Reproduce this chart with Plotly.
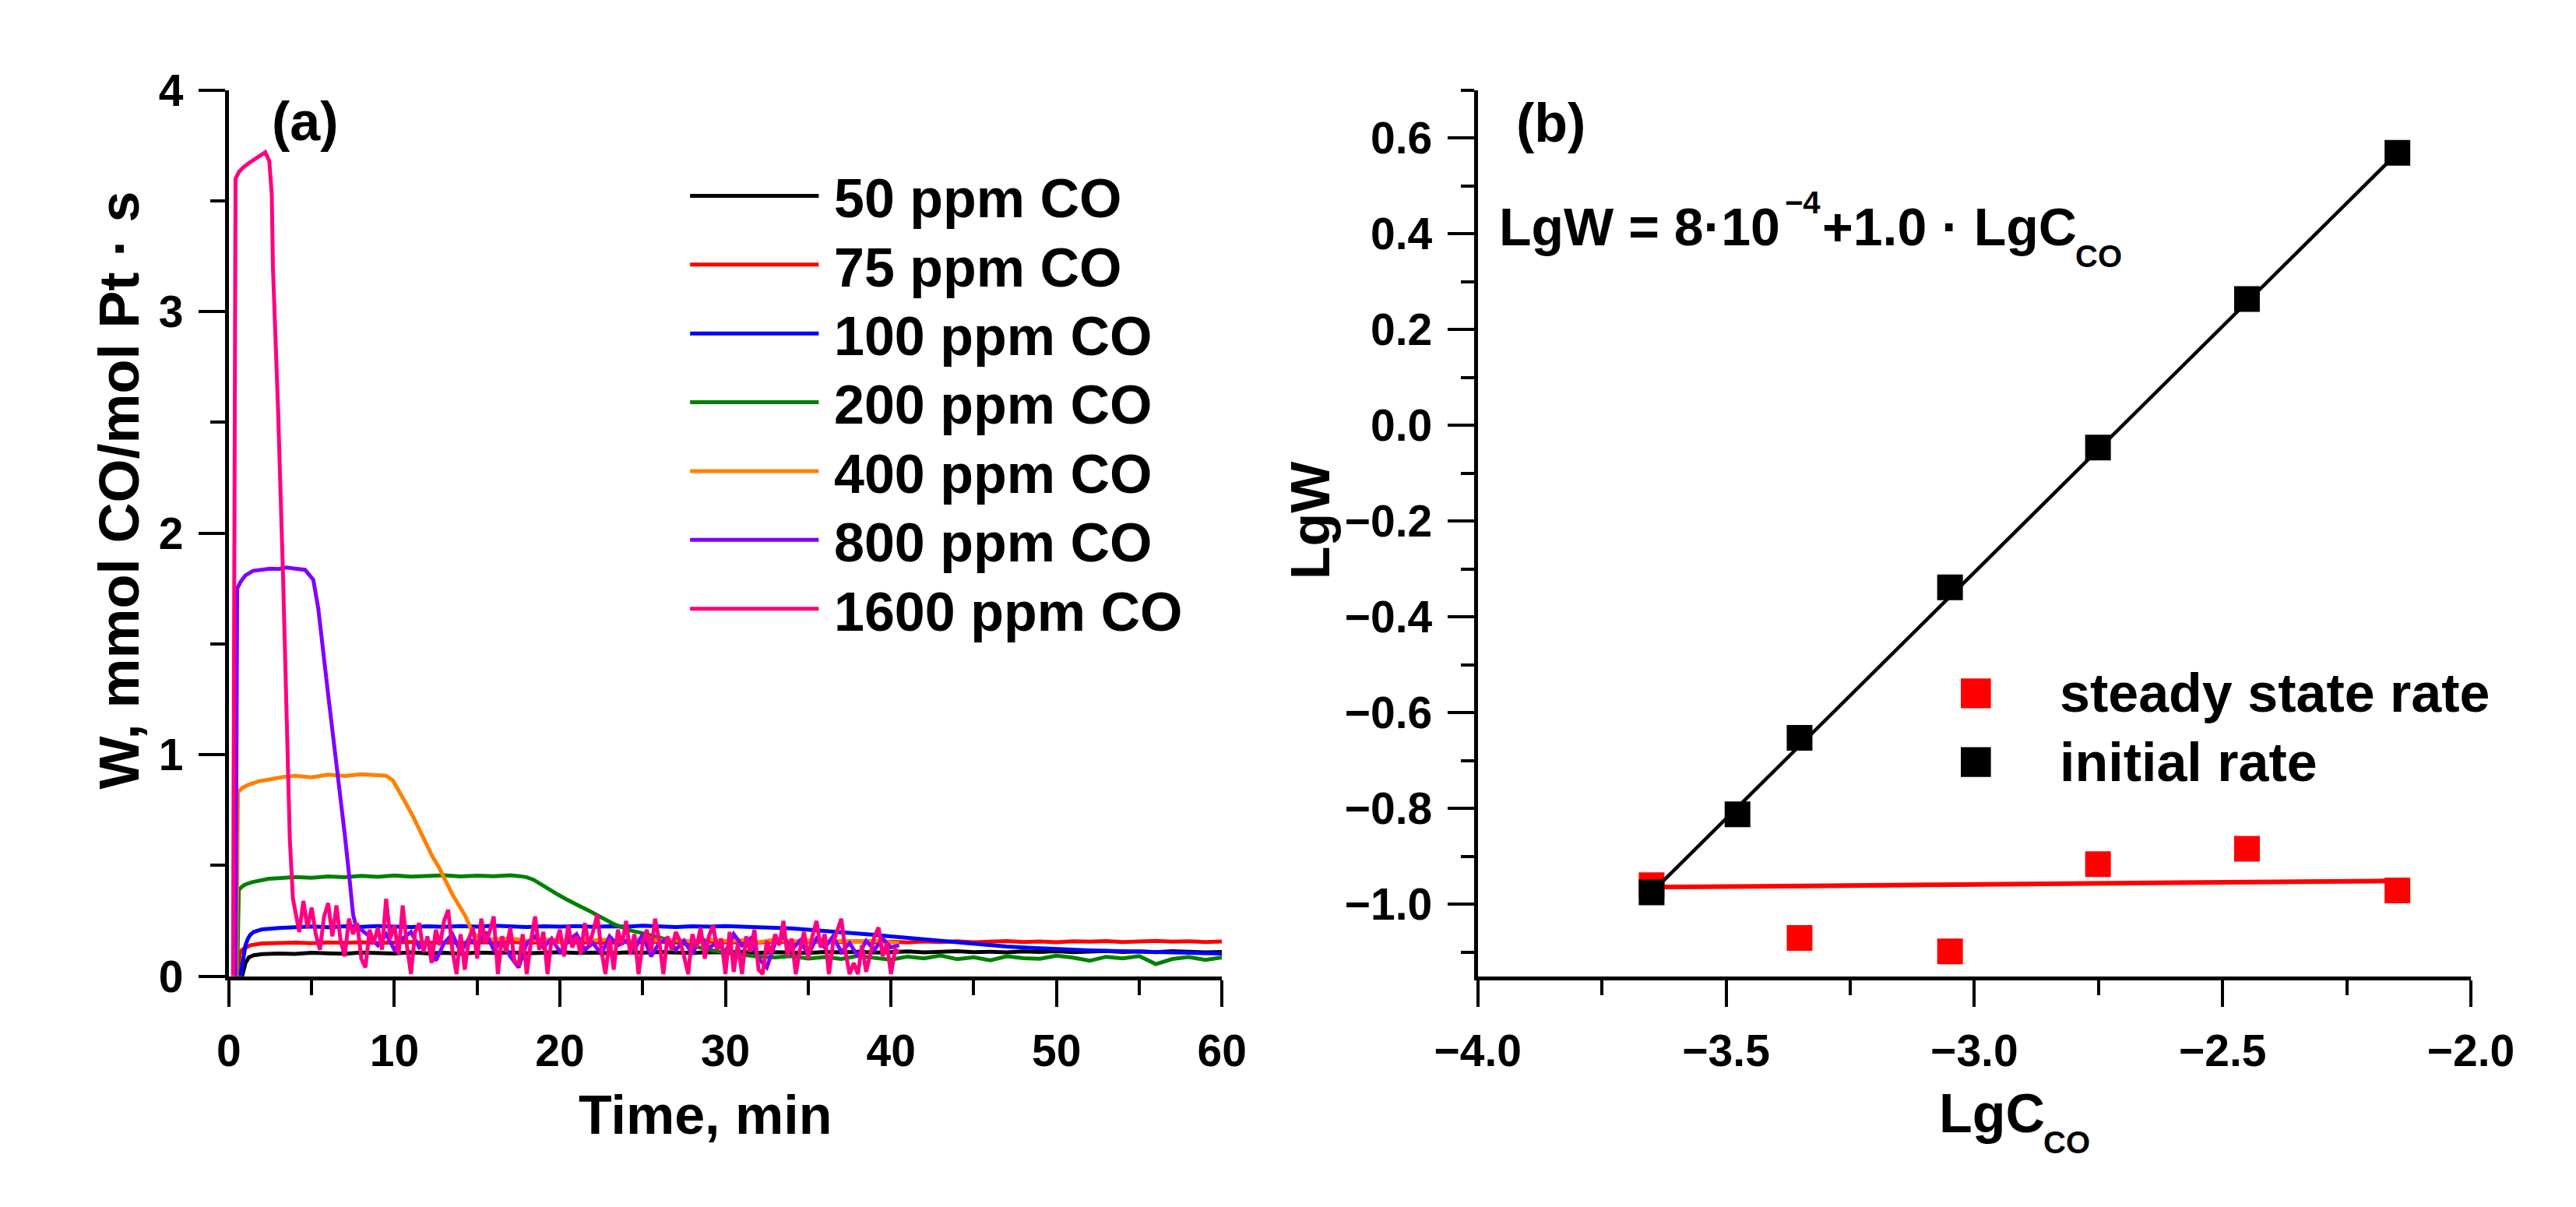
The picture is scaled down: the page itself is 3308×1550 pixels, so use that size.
import plotly.graph_objects as go

FIG_W, FIG_H = 3308, 1550
FONT = "Liberation Sans, Arial, Helvetica, sans-serif"

# ---------------- panel (a): W vs time ----------------
series_names = ["50 ppm CO", "75 ppm CO", "100 ppm CO", "200 ppm CO",
                "400 ppm CO", "800 ppm CO", "1600 ppm CO"]
series_colors = ["#000000", "#ff0000", "#0000ff", "#008000",
                 "#ff8000", "#8000ff", "#ff0080"]

t_minutes = [2, 3, 4, 5, 6, 7, 8, 9, 10, 11, 12, 13, 14, 15, 16, 17, 18, 19, 20,
             21, 22, 23, 24, 25, 26, 27, 28, 29, 30, 31, 32, 33, 34, 35, 36, 37, 38,
             39, 40, 41, 42, 43, 44, 45, 46, 47, 48, 49, 50, 51, 52, 53, 54, 55, 56,
             57, 58, 59, 60]

t_50 = [0.8, 1.0, 1.2, 1.5] + t_minutes
w_50 = [0, 0.06, 0.085, 0.095,
        0.100, 0.103, 0.101, 0.106, 0.104, 0.102, 0.107, 0.105, 0.103, 0.108,
        0.104, 0.106, 0.102, 0.107, 0.105, 0.108, 0.104, 0.106, 0.109, 0.105,
        0.107, 0.104, 0.108, 0.106, 0.110, 0.107, 0.105, 0.109, 0.107, 0.111,
        0.106, 0.109, 0.108, 0.105, 0.110, 0.108, 0.111, 0.107, 0.109, 0.112,
        0.108, 0.110, 0.113, 0.109, 0.111, 0.108, 0.112, 0.110, 0.113, 0.109,
        0.111, 0.114, 0.110, 0.112, 0.109, 0.113, 0.111, 0.108, 0.110]

t_75 = [0.55, 0.65, 0.8, 1.0, 1.3, 1.7] + t_minutes
w_75 = [0, 0.10, 0.12, 0.13, 0.14, 0.145,
        0.148, 0.150, 0.152, 0.149, 0.153, 0.151, 0.154, 0.150, 0.152, 0.155,
        0.151, 0.153, 0.150, 0.154, 0.152, 0.155, 0.151, 0.153, 0.156, 0.152,
        0.154, 0.151, 0.155, 0.153, 0.156, 0.152, 0.154, 0.157, 0.153, 0.155,
        0.152, 0.156, 0.154, 0.157, 0.153, 0.155, 0.158, 0.154, 0.156, 0.153,
        0.157, 0.155, 0.158, 0.154, 0.156, 0.159, 0.155, 0.157, 0.154, 0.158,
        0.156, 0.159, 0.155, 0.157, 0.160, 0.156, 0.158, 0.155, 0.157]

t_100 = [0.7, 0.8, 0.9, 1.0, 1.15, 1.3, 1.5, 1.8] + t_minutes
w_100 = [0, 0.04, 0.10, 0.14, 0.17, 0.188, 0.200, 0.208,
         0.212, 0.218, 0.222, 0.225, 0.221, 0.226, 0.223, 0.227, 0.224, 0.222,
         0.226, 0.223, 0.227, 0.224, 0.228, 0.225, 0.222, 0.226, 0.224, 0.227,
         0.223, 0.226, 0.224, 0.228, 0.225, 0.222, 0.226, 0.224, 0.227, 0.223,
         0.221, 0.219, 0.216, 0.211, 0.206, 0.200, 0.194, 0.187, 0.180, 0.173,
         0.166, 0.158, 0.151, 0.144, 0.139, 0.134, 0.130, 0.126, 0.123, 0.120,
         0.117, 0.115, 0.113, 0.111, 0.109, 0.107, 0.106, 0.104, 0.103]

t_200 = ([0.5, 0.6, 0.8, 1.0, 1.4, 1.8, 2.4,
          3, 4, 5, 6, 7, 8, 9, 10, 11, 12, 13, 14, 15, 16, 17,
          17.6, 18.0, 18.4, 18.9, 19.4, 19.9, 20.4, 20.9, 21.3, 21.8, 22.3, 22.8,
          23.3, 23.8, 24.3, 24.8, 25.3] + t_minutes[24:])
w_200 = [0, 0.39, 0.405, 0.415, 0.425, 0.432, 0.440,
         0.443, 0.448, 0.445, 0.451, 0.447, 0.453, 0.449, 0.455, 0.450, 0.452,
         0.456, 0.451, 0.454, 0.452, 0.456,
         0.452, 0.447, 0.436, 0.415, 0.390, 0.368, 0.347, 0.330, 0.313, 0.294,
         0.274, 0.254, 0.234, 0.220, 0.206, 0.198, 0.190,
         0.175, 0.155, 0.137, 0.120, 0.106, 0.096, 0.089, 0.085, 0.091, 0.080,
         0.087, 0.078, 0.092, 0.083, 0.075, 0.089, 0.081, 0.094, 0.077, 0.086,
         0.072, 0.090, 0.082, 0.079, 0.093, 0.084, 0.070, 0.088, 0.081, 0.091,
         0.055, 0.078, 0.087, 0.074, 0.085]

t_400 = ([0.45, 0.55, 0.8, 1.2, 1.8, 2.5, 3.3, 4, 5, 6, 7, 8, 9, 9.5, 9.9,
          10.3, 10.7, 11.1, 11.5, 11.9, 12.3, 12.7, 13.1, 13.5, 13.9, 14.3, 14.7,
          15.0, 15.5] + t_minutes[14:39] + [40.5])
w_400 = [0, 0.83, 0.85, 0.865, 0.88, 0.89, 0.90, 0.905, 0.898, 0.91, 0.904,
         0.912, 0.907, 0.905, 0.885, 0.835, 0.78, 0.725, 0.66, 0.595, 0.54, 0.49,
         0.43, 0.37, 0.32, 0.27, 0.20, 0.18, 0.17,
         0.165, 0.172, 0.160, 0.168, 0.158, 0.170, 0.162, 0.166, 0.155, 0.169,
         0.161, 0.164, 0.157, 0.167, 0.159, 0.163, 0.154, 0.166, 0.158, 0.162,
         0.153, 0.160, 0.156, 0.161, 0.152, 0.150]

t_800 = [0.4, 0.5, 0.7, 1.0, 1.45, 2, 2.5, 3, 3.5, 4, 4.6, 5.1, 5.4, 6.0, 6.6,
         7.0, 7.3, 7.5, 7.7,
         8.0, 8.5, 9.0, 9.5, 10.0, 10.5, 11.0, 11.5, 12.0, 12.5, 13.0, 13.5, 14.0,
         14.5, 15.0, 15.5, 16.0, 16.5, 17.0, 17.5, 18.0, 18.5, 19.0, 19.5, 20.0,
         20.5, 21.0, 21.5, 22.0, 22.5, 23.0, 23.5, 24.0, 24.5, 25.0, 25.5, 26.0,
         26.5, 27.0, 27.5, 28.0, 28.5, 29.0, 29.5, 30.0, 30.5, 31.0, 31.5, 32.0,
         32.5, 33.0, 33.5, 34.0, 34.5, 35.0, 35.5, 36.0, 36.5, 37.0, 37.5, 38.0,
         38.5, 39.0, 39.5, 40.0, 40.5]
w_800 = [0, 1.75, 1.78, 1.81, 1.83, 1.835, 1.84, 1.838, 1.845, 1.84, 1.835,
         1.79, 1.66, 1.27, 0.90, 0.64, 0.43, 0.28, 0.22,
         0.21, 0.18, 0.14, 0.19, 0.12, 0.17, 0.20, 0.13, 0.16, 0.07, 0.15, 0.19,
         0.11, 0.17, 0.14, 0.20, 0.12, 0.16, 0.09, 0.04, 0.15, 0.18, 0.13, 0.17,
         0.11, 0.16, 0.19, 0.12, 0.15, 0.10, 0.18, 0.14, 0.16, 0.12, 0.19, 0.09,
         0.15, 0.17, 0.12, 0.16, 0.10, 0.18, 0.13, 0.15, 0.11, 0.19, 0.14, 0.17,
         0.08, 0.04, 0.15, 0.18, 0.12, 0.16, 0.10, 0.17, 0.13, 0.18, 0.11, 0.15,
         0.09, 0.16, 0.12, 0.17, 0.13, 0.14]

t_1600 = [0.25, 0.4, 0.6, 0.85, 1.2, 1.6, 1.9, 2.2, 2.44, 2.59, 2.66, 2.97, 3.27,
          3.5, 3.68, 3.87,
          4.0, 4.25, 4.5, 4.75, 5.0, 5.25, 5.5, 5.75, 6.0, 6.25, 6.5, 6.75, 7.0,
          7.25, 7.5, 7.75, 8.0, 8.25, 8.5, 8.75, 9.0, 9.25, 9.5, 9.75, 10.0, 10.25,
          10.5, 10.75, 11.0, 11.25, 11.5, 11.75, 12.0, 12.25, 12.5, 12.75, 13.0,
          13.25, 13.5, 13.75, 14.0, 14.25, 14.5, 14.75, 15.0, 15.25, 15.5, 15.75,
          16.0, 16.25, 16.5, 16.75, 17.0, 17.25, 17.5, 17.75, 18.0, 18.25, 18.5,
          18.75, 19.0, 19.25, 19.5, 19.75, 20.0, 20.25, 20.5, 20.75, 21.0, 21.25,
          21.5, 21.75, 22.0, 22.25, 22.5, 22.75, 23.0, 23.25, 23.5, 23.75, 24.0,
          24.25, 24.5, 24.75, 25.0, 25.25, 25.5, 25.75, 26.0, 26.25, 26.5, 26.75,
          27.0, 27.25, 27.5, 27.75, 28.0, 28.25, 28.5, 28.75, 29.0, 29.25, 29.5,
          29.75, 30.0, 30.25, 30.5, 30.75, 31.0, 31.25, 31.5, 31.75, 32.0, 32.25,
          32.5, 32.75, 33.0, 33.25, 33.5, 33.75, 34.0, 34.25, 34.5, 34.75, 35.0,
          35.25, 35.5, 35.75, 36.0, 36.25, 36.5, 36.75, 37.0, 37.25, 37.5, 37.75,
          38.0, 38.25, 38.5, 38.75, 39.0, 39.25, 39.5, 39.75, 40.0, 40.25, 40.5]
w_1600 = [0, 3.60, 3.63, 3.65, 3.67, 3.69, 3.71, 3.72, 3.68, 3.53, 3.20, 2.56,
          1.81, 1.12, 0.62, 0.35,
          0.30, 0.20, 0.34, 0.22, 0.31, 0.19, 0.12, 0.27, 0.33, 0.18, 0.32, 0.16,
          0.09, 0.26, 0.19, 0.24, 0.08, 0.04, 0.21, 0.15, 0.22, 0.12, 0.35, 0.17,
          0.23, 0.10, 0.32, 0.14, 0.01, 0.20, 0.24, 0.11, 0.18, 0.06, 0.21, 0.14,
          0.25, 0.30, 0.12, 0.01, 0.19, 0.03, 0.17, 0.22, 0.08, 0.26, 0.15, 0.20,
          0.27, 0.01, 0.18, 0.11, 0.22, 0.07, 0.05, 0.19, 0.01, 0.16, 0.27, 0.12,
          0.20, 0.01, 0.17, 0.15, 0.21, 0.09, 0.23, 0.13, 0.18, 0.10, 0.24, 0.14,
          0.20, 0.28, 0.12, 0.01, 0.17, 0.03, 0.21, 0.14, 0.25, 0.10, 0.19, 0.01,
          0.15, 0.21, 0.11, 0.26, 0.16, 0.01, 0.18, 0.12, 0.20, 0.16, 0.09, 0.01,
          0.19, 0.13, 0.22, 0.08, 0.18, 0.23, 0.12, 0.17, 0.01, 0.20, 0.02, 0.15,
          0.01, 0.18, 0.11, 0.21, 0.03, 0.01, 0.16, 0.10, 0.19, 0.14, 0.25, 0.09,
          0.17, 0.01, 0.12, 0.20, 0.08, 0.18, 0.25, 0.13, 0.19, 0.01, 0.15, 0.20,
          0.26, 0.11, 0.01, 0.06, 0.01, 0.14, 0.02, 0.10, 0.18, 0.22, 0.09, 0.15,
          0.01, 0.12, 0.11]

series_t = [t_50, t_75, t_100, t_200, t_400, t_800, t_1600]
series_w = [w_50, w_75, w_100, w_200, w_400, w_800, w_1600]

# ---------------- panel (b): LgW vs LgC_CO ----------------
lgc_initial = [-3.650, -3.477, -3.352, -3.049, -2.751, -2.451, -2.148]
lgw_initial = [-0.975, -0.812, -0.652, -0.338, -0.046, 0.264, 0.569]
lgc_steady = [-3.650, -3.352, -3.049, -2.751, -2.451, -2.148]
lgw_steady = [-0.960, -1.070, -1.098, -0.916, -0.884, -0.971]
fit_initial_x = [-3.650, -2.148]
fit_initial_y = [-0.975, 0.569]
fit_steady_x = [-3.650, -2.170]
fit_steady_y = [-0.964, -0.951]
legend_b_labels = ["steady state rate", "initial rate"]
legend_b_colors = ["#ff0000", "#000000"]

fig = go.Figure()

for name, color, t, w in zip(series_names, series_colors, series_t, series_w):
    fig.add_trace(go.Scatter(x=t, y=w, mode="lines", name=name,
                             line=dict(color=color, width=5),
                             xaxis="x", yaxis="y", showlegend=False))

fig.add_trace(go.Scatter(x=lgc_steady, y=lgw_steady, mode="markers",
                         name="steady state rate",
                         marker=dict(symbol="square", size=33, color="#ff0000"),
                         xaxis="x2", yaxis="y2", showlegend=False))
fig.add_trace(go.Scatter(x=fit_steady_x, y=fit_steady_y, mode="lines",
                         line=dict(color="#ff0000", width=6),
                         xaxis="x2", yaxis="y2", showlegend=False))
fig.add_trace(go.Scatter(x=fit_initial_x, y=fit_initial_y, mode="lines",
                         line=dict(color="#000000", width=4.5),
                         xaxis="x2", yaxis="y2", showlegend=False))
fig.add_trace(go.Scatter(x=lgc_initial, y=lgw_initial, mode="markers",
                         name="initial rate",
                         marker=dict(symbol="square", size=33, color="#000000"),
                         xaxis="x2", yaxis="y2", showlegend=False))

# ---------------- layout ----------------
def px_x(p):
    return p / FIG_W


def px_y(p):
    return (FIG_H - p) / FIG_H


y_dom = [px_y(1266), px_y(79)]
tickfont = dict(family=FONT, size=57, color="#000000", weight="bold")
axis_common = dict(showline=True, linewidth=5, linecolor="#000000",
                   ticks="outside", ticklen=34, tickwidth=4, tickcolor="#000000",
                   showgrid=False, zeroline=False, tickfont=tickfont,
                   ticklabelstandoff=8)

fig.update_layout(
    width=FIG_W, height=FIG_H,
    margin=dict(l=0, r=0, t=0, b=0),
    paper_bgcolor="#ffffff", plot_bgcolor="#ffffff",
    font=dict(family=FONT, color="#000000"),
    showlegend=False,
    xaxis=dict(domain=[px_x(238), px_x(1558)], range=[0, 60], dtick=10, tick0=0,
               anchor="y",
               minor=dict(dtick=5, ticklen=19, tickwidth=4, ticks="outside",
                          tickcolor="#000000"),
               **axis_common),
    yaxis=dict(domain=y_dom, range=[0, 4], dtick=1, tick0=0, anchor="x",
               minor=dict(dtick=0.5, ticklen=19, tickwidth=4, ticks="outside",
                          tickcolor="#000000"),
               **axis_common),
    xaxis2=dict(domain=[px_x(1898), px_x(3218)], range=[-4, -2], dtick=0.5,
                tick0=0, tickformat=".1f", anchor="y2",
                minor=dict(dtick=0.25, ticklen=19, tickwidth=4, ticks="outside",
                           tickcolor="#000000"),
                **axis_common),
    yaxis2=dict(domain=y_dom, range=[-1.15, 0.7], dtick=0.2, tick0=0,
                tickformat=".1f", anchor="x2",
                minor=dict(dtick=0.1, ticklen=17, tickwidth=4, ticks="outside",
                           tickcolor="#000000"),
                **axis_common),
)

big = dict(family=FONT, size=70, color="#000000", weight="bold")
title_w = dict(family=FONT, size=72, color="#000000", weight="bold")
main_eq = dict(family=FONT, size=68, color="#000000", weight="bold")
small = dict(family=FONT, size=40, color="#000000", weight="bold")

texts = [
    # text, x px, y px (centre), xanchor, font, angle
    ("(a)", 340, 121, "center", big, 0),
    ("(b)", 1995, 123, "center", big, 0),
    ("Time, min", 871, 1452, "center", big, 0),
    ("W, mmol CO/mol Pt \u00b7 s", 92, 615, "center", title_w, -90),
    ("LgW", 1676, 655, "center", big, -90),
    ("LgC", 2509, 1450, "left", big, 0),
    ("CO", 2648, 1488, "left", small, 0),
    ("LgW = 8\u00b710", 1924, 262, "left", main_eq, 0),
    ("\u22124", 2304, 229, "left", small, 0),
    ("+1.0 \u00b7 LgC", 2354, 262, "left", main_eq, 0),
    ("CO", 2690, 301, "left", small, 0),
]
for txt, xp, yp, xa, fnt, ang in texts:
    fig.add_annotation(xref="paper", yref="paper", x=px_x(xp), y=px_y(yp),
                       xanchor=xa, yanchor="middle", showarrow=False,
                       text=txt, font=fnt, textangle=ang)

# legend of panel (a): line swatches and labels
legend_a_y0, legend_a_step = 220.5, 92.2
for i, (name, color) in enumerate(zip(series_names, series_colors)):
    yc = legend_a_y0 + legend_a_step * i
    fig.add_shape(type="line", xref="paper", yref="paper",
                  x0=px_x(851), x1=px_x(1022), y0=px_y(yc), y1=px_y(yc),
                  line=dict(color=color, width=5))
    fig.add_annotation(xref="paper", yref="paper", x=px_x(1040), y=px_y(yc + 4),
                       xanchor="left", yanchor="middle", showarrow=False,
                       text=name, font=big)

# legend of panel (b): square swatches and labels
legend_b_y = [887, 979]
for label, color, yc in zip(legend_b_labels, legend_b_colors, legend_b_y):
    fig.add_shape(type="rect", xref="paper", yref="paper",
                  x0=px_x(2540), x1=px_x(2580), y0=px_y(yc + 20), y1=px_y(yc - 20),
                  fillcolor=color, line=dict(width=0))
    fig.add_annotation(xref="paper", yref="paper", x=px_x(2669), y=px_y(yc),
                       xanchor="left", yanchor="middle", showarrow=False,
                       text=label, font=big)

fig.write_html("out.html")
